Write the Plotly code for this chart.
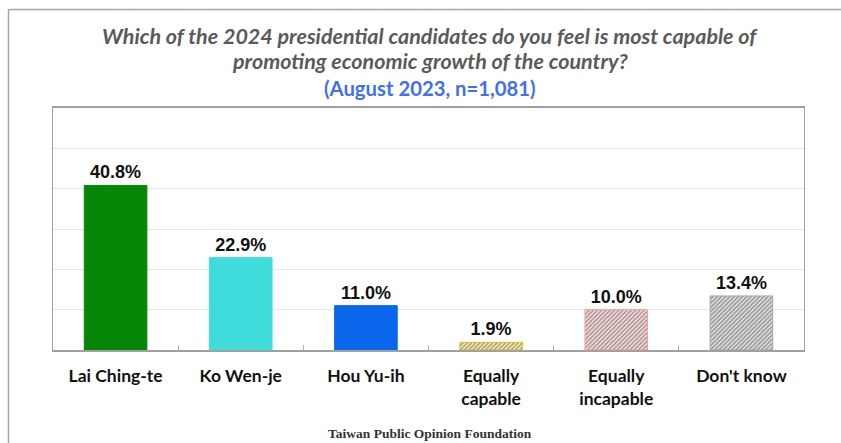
import plotly.graph_objects as go

categories = ["Lai Ching-te", "Ko Wen-je", "Hou Yu-ih", "Equally<br>capable", "Equally<br>incapable", "Don't know"]
values = [40.8, 22.9, 11.0, 1.9, 10.0, 13.4]
bar_colors = ["#068606", "#40DBDB", "#0A66EA", "#FFF0B8", "#FFE0E0", "#E4E4E4"]
line_colors = ["#068606", "#40DBDB", "#0A66EA", "#EBC000", "#FF9A9A", "#A6A6A6"]
pattern_shapes = ["", "", "", "/", "/", "/"]
pattern_fg = ["#068606", "#40DBDB", "#0A66EA", "#F2C200", "#FF8C8C", "#8C8C8C"]
title_lines = [
    "Which of the 2024 presidential candidates do you feel is most capable of",
    "promoting economic growth of the country?",
    "(August 2023, n=1,081)",
]
footer = "Taiwan Public Opinion Foundation"

W, H = 841, 443
L, R, T, B = 53, 804, 108, 350

fig = go.Figure(go.Bar(
    x=categories,
    y=values,
    width=0.5,
    marker=dict(
        color=bar_colors,
        line=dict(color=line_colors, width=1),
        pattern=dict(shape=pattern_shapes, fgcolor=pattern_fg, size=3, solidity=0.5, fillmode="overlay"),
    ),
    texttemplate="%{y:.1f}%",
    textposition="outside",
    textfont=dict(family="Arial, Liberation Sans", size=18, color="#111111", weight="bold"),
    cliponaxis=False,
))

def px_x(px):
    return (px - L) / (R - L)

def px_y(py):
    return (B - py) / (B - T)

annotations = [
    dict(text="<i>" + title_lines[0] + "</i>", x=px_x(430), y=px_y(36)),
    dict(text="<i>" + title_lines[1] + "</i>", x=px_x(430), y=px_y(61)),
]
for a in annotations:
    a.update(xref="paper", yref="paper", showarrow=False, xanchor="center", yanchor="middle",
             font=dict(family="Lato", size=21.5, color="#5A5A5A", weight="bold"))
annotations.append(dict(text=title_lines[2], x=px_x(430), y=px_y(88), xref="paper", yref="paper",
                        showarrow=False, xanchor="center", yanchor="middle",
                        font=dict(family="Lato", size=20.3, color="#4070F0", weight="bold")))
annotations.append(dict(text=footer, x=px_x(430), y=px_y(433), xref="paper", yref="paper",
                        showarrow=False, xanchor="center", yanchor="middle",
                        font=dict(family="Liberation Serif", size=13.5, color="#333333", weight="bold")))

shapes = [
    dict(type="line", xref="paper", yref="paper", x0=px_x(8.5), x1=px_x(845), y0=px_y(9.5), y1=px_y(9.5),
         line=dict(color="#A6A6A6", width=1.5)),
    dict(type="line", xref="paper", yref="paper", x0=px_x(8.5), x1=px_x(8.5), y0=px_y(9.5), y1=px_y(450),
         line=dict(color="#A6A6A6", width=1.5)),
]

fig.update_layout(
    width=W, height=H,
    margin=dict(l=L, r=W - R, t=T, b=H - B, pad=0),
    paper_bgcolor="white",
    plot_bgcolor="white",
    showlegend=False,
    bargap=0.5,
    annotations=annotations,
    shapes=shapes,
    xaxis=dict(
        showgrid=False,
        showline=True, linecolor="#A0A0A0", linewidth=1.5, mirror=True,
        ticks="inside", tickson="boundaries", ticklen=5, tickcolor="#B0B0B0",
        tickfont=dict(family="Lato", size=17.5, color="#111111", weight="bold"),
        ticklabelstandoff=9,
    ),
    yaxis=dict(
        range=[0, 60], dtick=10,
        showgrid=True, gridcolor="#E6E6E6", gridwidth=1,
        showline=True, linecolor="#A0A0A0", linewidth=1, mirror=True,
        showticklabels=False, ticks="", zeroline=False,
    ),
)

fig.write_html("out.html", config={"displayModeBar": False},
               post_script="document.body.style.margin='0';document.body.style.overflow='hidden';")
